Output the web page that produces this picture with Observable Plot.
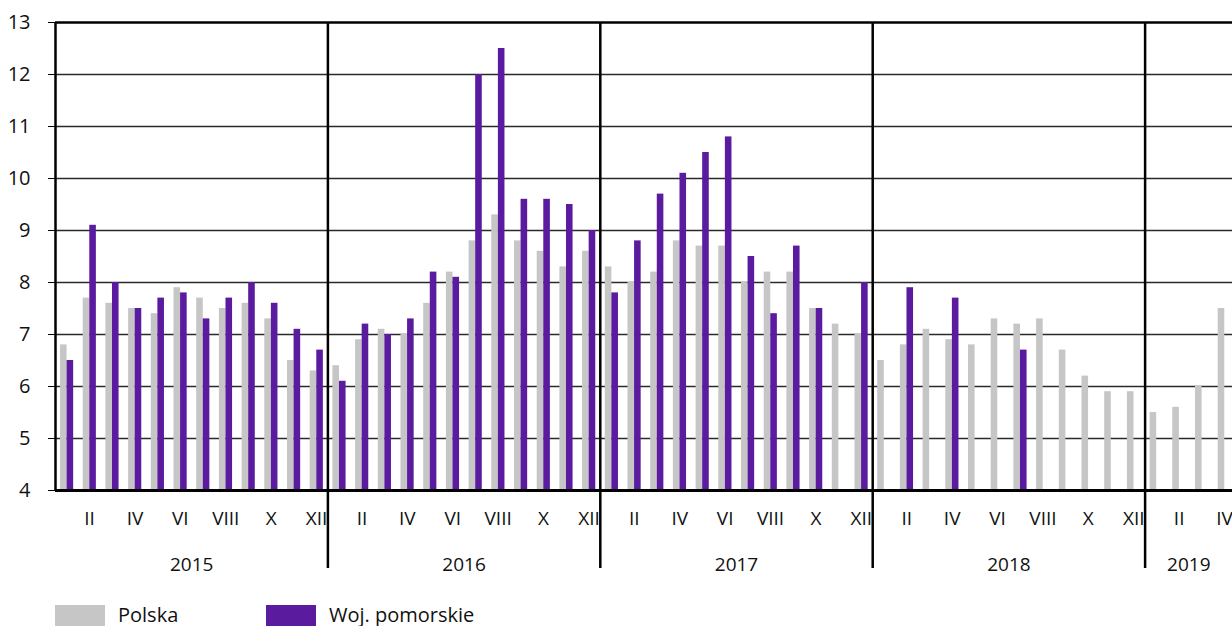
<!DOCTYPE html>
<html>
<head>
<meta charset="utf-8">
<script src="https://cdn.jsdelivr.net/npm/d3@7"></script>
<script src="https://cdn.jsdelivr.net/npm/@observablehq/plot@0.6"></script>
<style>
  html, body { margin: 0; padding: 0; background: #fff; overflow: hidden; }
  body { font-family: "Open Sans", "DejaVu Sans", sans-serif; color: #111; }
  #legend { display: flex; margin-top: 10px; padding-left: 55px; font-size: 20px; line-height: 19px; }
  .item { display: flex; align-items: flex-start; }
  .item .sw { width: 50px; height: 21px; margin-right: 13px; }
  .item:first-child { width: 211px; }
</style>
</head>
<body>
<div id="chart"></div>
<div id="legend"></div>
<script>
// ---- data ----
const years = [2015, 2016, 2017, 2018, 2019];
const monthLabels = ["I","II","III","IV","V","VI","VII","VIII","IX","X","XI","XII"];
const seriesNames = ["Polska", "Woj. pomorskie"];
const seriesColors = ["#c6c6c6", "#5b1b9f"];

const polska = [
  6.8, 7.7, 7.6, 7.5, 7.4, 7.9, 7.7, 7.5, 7.6, 7.3, 6.5, 6.3,
  6.4, 6.9, 7.1, 7.0, 7.6, 8.2, 8.8, 9.3, 8.8, 8.6, 8.3, 8.6,
  8.3, 8.0, 8.2, 8.8, 8.7, 8.7, 8.0, 8.2, 8.2, 7.5, 7.2, 7.0,
  6.5, 6.8, 7.1, 6.9, 6.8, 7.3, 7.2, 7.3, 6.7, 6.2, 5.9, 5.9,
  5.5, 5.6, 6.0, 7.5
];
const pomorskie = [
  6.5, 9.1, 8.0, 7.5, 7.7, 7.8, 7.3, 7.7, 8.0, 7.6, 7.1, 6.7,
  6.1, 7.2, 7.0, 7.3, 8.2, 8.1, 12.0, 12.5, 9.6, 9.6, 9.5, 9.0,
  7.8, 8.8, 9.7, 10.1, 10.5, 10.8, 8.5, 7.4, 8.7, 7.5, null, 8.0,
  null, 7.9, null, 7.7, null, null, 6.7, null, null, null, null, null,
  null, null, null, null
];
const yTicks = [4, 5, 6, 7, 8, 9, 10, 11, 12, 13];

// ---- table built from the arrays ----
const rows = polska.map((v, i) => ({
  i, year: years[Math.floor(i / 12)], month: i % 12, polska: v, pomorskie: pomorskie[i]
}));

const xMax = 51.85; // visible extent (chart is cut in April 2019)
const monthTicks = rows.filter(d => d.month % 2 === 1).map(d => d.i + 0.5);
const yearStarts = years.map((y, k) => k * 12);
const yearCenters = yearStarts.map(s => (s + Math.min(s + 12, xMax)) / 2);

const chart = Plot.plot({
  width: 1232,
  height: 595,
  marginLeft: 55,
  marginRight: 0,
  marginTop: 22,
  marginBottom: 105,
  style: { fontFamily: "'Open Sans', sans-serif", fontSize: "20px", color: "#111", background: "#fff", overflow: "visible" },
  x: { domain: [0, xMax], axis: null },
  y: { domain: [4, 13], axis: null },
  marks: [
    Plot.ruleY(yTicks.filter(t => t > 4 && t < 13), { stroke: "#2a2a2a", strokeWidth: 1.6 }),
    Plot.rect(rows.filter(d => d.polska != null), {
      x1: d => d.i + 0.22, x2: d => d.i + 0.51, y1: 4, y2: "polska", fill: seriesColors[0]
    }),
    Plot.rect(rows.filter(d => d.pomorskie != null), {
      x1: d => d.i + 0.51, x2: d => d.i + 0.8, y1: 4, y2: "pomorskie", fill: seriesColors[1]
    }),
    Plot.ruleY([13], { stroke: "#000", strokeWidth: 2.5 }),
    Plot.ruleX([0], { y1: 4, y2: 13, stroke: "#000", strokeWidth: 2.5 }),
    Plot.ruleX(yearStarts.slice(1), { y1: 13, y2: 2.5, stroke: "#000", strokeWidth: 2.5 }),
    Plot.ruleY([4], { stroke: "#000", strokeWidth: 3 }),
    Plot.axisY({ ticks: yTicks, tickSize: 7, tickPadding: 18, stroke: "#000", fill: "#111", fontSize: 20 }),
    Plot.axisX({
      ticks: monthTicks, tickSize: 0, tickPadding: 21, fontSize: 19, fill: "#111",
      tickFormat: t => monthLabels[Math.floor(t) % 12]
    }),
    Plot.axisX({
      ticks: yearCenters, tickSize: 0, tickPadding: 67, fontSize: 19, fill: "#111",
      tickFormat: t => String(years[Math.floor(t / 12)])
    })
  ]
});
document.getElementById("chart").appendChild(chart);

const legend = document.getElementById("legend");
seriesNames.forEach((name, k) => {
  const item = document.createElement("div");
  item.className = "item";
  item.innerHTML = `<span class="sw" style="background:${seriesColors[k]}"></span><span>${name}</span>`;
  legend.appendChild(item);
});
</script>
</body>
</html>
